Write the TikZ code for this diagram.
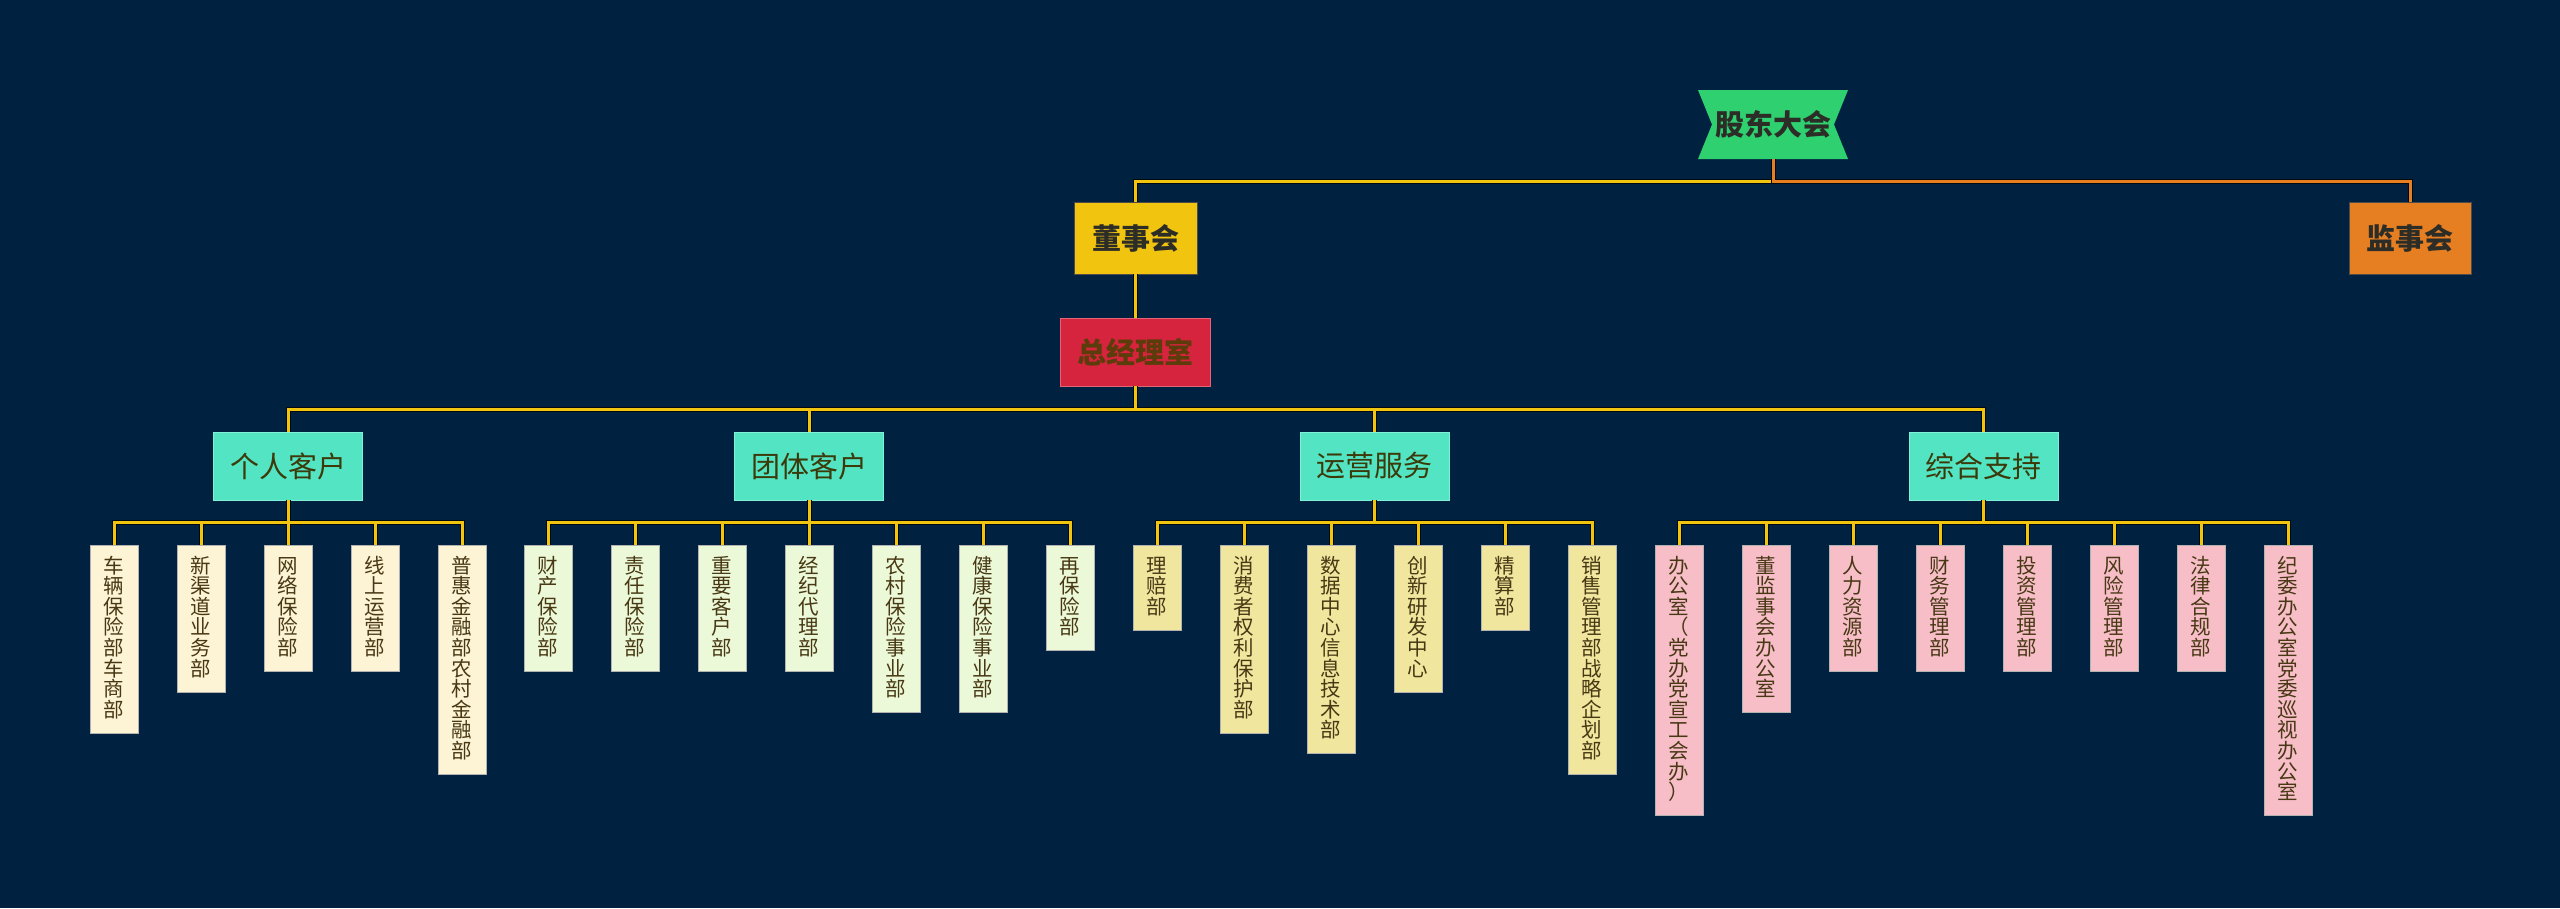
\documentclass[tikz,border=0pt]{standalone}
\usepackage{fontspec}
\setmainfont{Noto Sans CJK SC}
\usetikzlibrary{calc}
\definecolor{bg}{RGB}{0,34,64}
\definecolor{yel}{RGB}{241,196,15}
\definecolor{org}{RGB}{230,126,34}
\definecolor{gdgreen}{RGB}{46,208,112}
\definecolor{ceored}{RGB}{215,36,62}
\definecolor{turq}{RGB}{83,228,195}
\definecolor{turqedge}{RGB}{130,240,215}
\definecolor{darktext}{RGB}{45,45,40}
\definecolor{redtext}{RGB}{92,60,10}
\definecolor{l2text}{RGB}{60,58,10}
\definecolor{leaftext}{RGB}{72,56,20}
\definecolor{cream}{RGB}{253,244,214}
\definecolor{palegreen}{RGB}{236,249,216}
\definecolor{khaki}{RGB}{241,230,158}
\definecolor{pink}{RGB}{247,190,200}
\makeatletter
\newcommand\vtext[1]{\vbox{\@tfor\vt@c:=#1\do{\hbox to 20.6pt{\hss\vrule height 16.4pt depth 4.2pt width 0pt\smash{\vt@c}\hss}\nointerlineskip}}}
\makeatother
\tikzset{
  topbox/.style={rectangle, minimum height=72pt, inner sep=0pt, font=\fontsize{29}{29}\selectfont\bfseries, text=darktext, draw=black!70, line width=0.8pt},
  l2box/.style={rectangle, fill=turq, draw=turqedge, line width=0.8pt, minimum width=149pt, minimum height=68pt, inner sep=0pt, font=\fontsize{29}{29}\selectfont, text=l2text},
  leaf/.style={rectangle, anchor=north, minimum width=48pt, inner xsep=0pt, inner ysep=11.5pt, font=\fontsize{20.5}{20.5}\selectfont, text=leaftext, draw=white!70!black, line width=0.5pt},
  shadowline/.style={draw=black!75!bg, line width=5pt},
  yline/.style={draw=yel, line width=3pt},
  oline/.style={draw=org, line width=3pt},
}
\begin{document}
\begin{tikzpicture}[x=1pt,y=1pt]
\fill[bg] (0,0) rectangle (2560,-908);
\useasboundingbox (0,0) rectangle (2560,-908);

% top level
\node[rectangle, minimum width=150pt, minimum height=69pt, inner sep=0pt,
  font=\fontsize{29}{29}\selectfont\bfseries, text=darktext,
  path picture={\fill[gdgreen] (path picture bounding box.north west) -- (path picture bounding box.north east)
     -- ($(path picture bounding box.east)+(-14,0)$) -- (path picture bounding box.south east)
     -- (path picture bounding box.south west) -- ($(path picture bounding box.west)+(14,0)$) -- cycle;}]
  (gd) at (1773,-124.5) {股东大会};
\node[topbox, fill=yel, minimum width=123pt] (dsh) at (1135.5,-238) {董事会};
\node[topbox, fill=org, minimum width=122pt] (jsh) at (2410,-238) {监事会};
\node[rectangle, fill=ceored, draw=ceored!70!white, line width=0.6pt, minimum width=150pt, minimum height=68pt, inner sep=0pt,
  font=\fontsize{29}{29}\selectfont\bfseries, text=redtext] (zjl) at (1135.5,-352) {总经理室};

% level 2
\node[l2box] (g1) at (288,-466) {个人客户};
\node[l2box] (g2) at (809,-466) {团体客户};
\node[l2box] (g3) at (1374.5,-466) {运营服务};
\node[l2box] (g4) at (1983.5,-466) {综合支持};

% leaves group 1
\node[leaf, fill=cream] (a1) at (114,-545) {\vtext{车辆保险部车商部}};
\node[leaf, fill=cream] (a2) at (201,-545) {\vtext{新渠道业务部}};
\node[leaf, fill=cream] (a3) at (288,-545) {\vtext{网络保险部}};
\node[leaf, fill=cream] (a4) at (375,-545) {\vtext{线上运营部}};
\node[leaf, fill=cream] (a5) at (462,-545) {\vtext{普惠金融部农村金融部}};
% group 2
\node[leaf, fill=palegreen] (b1) at (548,-545) {\vtext{财产保险部}};
\node[leaf, fill=palegreen] (b2) at (635,-545) {\vtext{责任保险部}};
\node[leaf, fill=palegreen] (b3) at (722,-545) {\vtext{重要客户部}};
\node[leaf, fill=palegreen] (b4) at (809,-545) {\vtext{经纪代理部}};
\node[leaf, fill=palegreen] (b5) at (896,-545) {\vtext{农村保险事业部}};
\node[leaf, fill=palegreen] (b6) at (983,-545) {\vtext{健康保险事业部}};
\node[leaf, fill=palegreen] (b7) at (1070,-545) {\vtext{再保险部}};
% group 3
\node[leaf, fill=khaki] (c1) at (1157,-545) {\vtext{理赔部}};
\node[leaf, fill=khaki] (c2) at (1244,-545) {\vtext{消费者权利保护部}};
\node[leaf, fill=khaki] (c3) at (1331,-545) {\vtext{数据中心信息技术部}};
\node[leaf, fill=khaki] (c4) at (1418,-545) {\vtext{创新研发中心}};
\node[leaf, fill=khaki] (c5) at (1505,-545) {\vtext{精算部}};
\node[leaf, fill=khaki] (c6) at (1592,-545) {\vtext{销售管理部战略企划部}};
% group 4
\node[leaf, fill=pink] (d1) at (1679,-545) {\vtext{办公室（党办党宣工会办）}};
\node[leaf, fill=pink] (d2) at (1766,-545) {\vtext{董监事会办公室}};
\node[leaf, fill=pink] (d3) at (1853,-545) {\vtext{人力资源部}};
\node[leaf, fill=pink] (d4) at (1940,-545) {\vtext{财务管理部}};
\node[leaf, fill=pink] (d5) at (2027,-545) {\vtext{投资管理部}};
\node[leaf, fill=pink] (d6) at (2114,-545) {\vtext{风险管理部}};
\node[leaf, fill=pink] (d7) at (2201,-545) {\vtext{法律合规部}};
\node[leaf, fill=pink] (d8) at (2288,-545) {\vtext{纪委办公室党委巡视办公室}};

% connectors (shadow pass then colour pass)
\foreach \st in {shadowline, yline} {
  \draw[\st] (gd.south) -- ++(0,-22.5) -| (dsh.north);
  \draw[\st] (dsh.south) -- (zjl.north);
  \foreach \c in {g1,g2,g3,g4} { \draw[\st] (zjl.south) -- ++(0,-23) -| (\c.north); }
  \foreach \c in {a1,a2,a3,a4,a5} { \draw[\st] (g1.south) -- ++(0,-22.5) -| (\c.north); }
  \foreach \c in {b1,b2,b3,b4,b5,b6,b7} { \draw[\st] (g2.south) -- ++(0,-22.5) -| (\c.north); }
  \foreach \c in {c1,c2,c3,c4,c5,c6} { \draw[\st] (g3.south) -- ++(0,-22.5) -| (\c.north); }
  \foreach \c in {d1,d2,d3,d4,d5,d6,d7,d8} { \draw[\st] (g4.south) -- ++(0,-22.5) -| (\c.north); }
}
\draw[shadowline] (gd.south) -- ++(0,-22.5) -| (jsh.north);
\draw[oline] (gd.south) -- ++(0,-22.5) -| (jsh.north);
\end{tikzpicture}
\end{document}
